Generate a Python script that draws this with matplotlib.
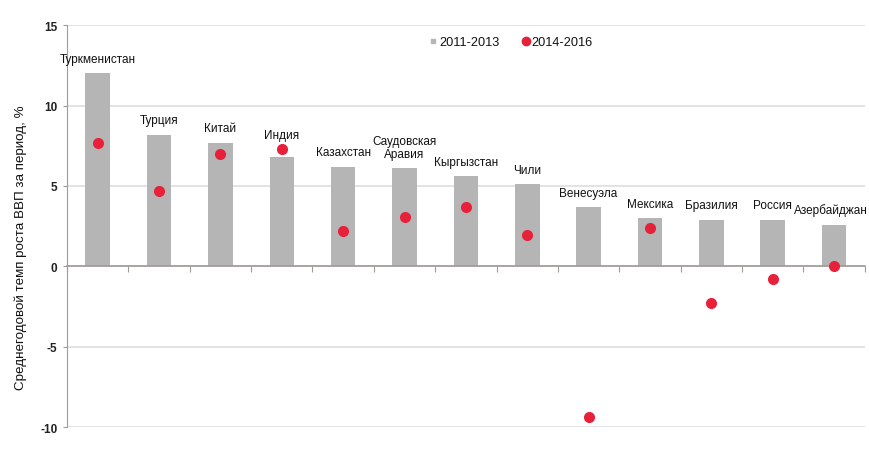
import matplotlib
matplotlib.use("Agg")
import matplotlib.pyplot as plt
from matplotlib.lines import Line2D
import numpy as np

countries = [
    "Туркменистан", "Турция", "Китай", "Индия", "Казахстан",
    "Саудовская\nАравия", "Кыргызстан", "Чили", "Венесуэла", "Мексика",
    "Бразилия", "Россия", "Азербайджан",
]
growth_2011_2013 = [12.0, 8.2, 7.7, 6.8, 6.2, 6.1, 5.6, 5.1, 3.7, 3.0, 2.9, 2.9, 2.6]
growth_2014_2016 = [7.65, 4.7, 7.0, 7.3, 2.2, 3.05, 3.7, 1.95, -9.4, 2.4, -2.3, -0.8, 0.0]
y_ticks = [-10, -5, 0, 5, 10, 15]
legend_labels = ["2011-2013", "2014-2016"]
y_label = "Среднегодовой темп роста ВВП за период, %"

bar_color = "#b5b5b5"
dot_color = "#e8213a"
grid_color = "#e0e0e0"
axis_color = "#a09a98"
text_color = "#111111"

plt.rcParams["font.family"] = ["Liberation Sans", "DejaVu Sans"]

fig = plt.figure(figsize=(8.7, 4.52), dpi=100)
ax = fig.add_axes([0.077, 0.053, 0.917, 0.889])

x = np.arange(len(countries))
ax.bar(x, growth_2011_2013, width=0.4, color=bar_color, zorder=2)
ax.scatter(x, growth_2014_2016, s=64, color=dot_color, zorder=3, linewidths=0)

# country names sit just above the bar (or the dot, if it is higher);
# the last one is pushed left so it stays inside the figure
for xi, name, b, d in zip(x, countries, growth_2011_2013, growth_2014_2016):
    top = max(b, d)
    if xi == len(countries) - 1:
        pos, ha = (xi + 0.55, top), "right"
    else:
        pos, ha = (xi, top), "center"
    ax.annotate(name, pos, xytext=(0, 6), textcoords="offset points",
                ha=ha, va="bottom", fontsize=8.5, linespacing=1.15,
                color=text_color, annotation_clip=False, zorder=4)

ax.set_xlim(-0.5, len(countries) - 0.5)
ax.set_ylim(-10, 15)
ax.set_yticks(y_ticks)
ax.set_yticklabels([str(v) for v in y_ticks], fontsize=8.5, fontweight="bold", color="#222222")
ax.yaxis.grid(True, color=grid_color, linewidth=1.3, zorder=0)
ax.set_axisbelow(True)

# zero line with category boundary ticks
ax.spines["bottom"].set_position(("data", 0))
ax.spines["bottom"].set_color(axis_color)
ax.spines["bottom"].set_linewidth(1.2)
ax.set_xticks(np.arange(len(countries) + 1) - 0.5)
ax.set_xticklabels([])
ax.tick_params(axis="x", direction="out", length=4, color=axis_color)
ax.tick_params(axis="y", length=3, color=axis_color, pad=4)
ax.spines["left"].set_color(axis_color)
ax.spines["top"].set_visible(False)
ax.spines["right"].set_visible(False)

ax.set_ylabel(y_label, fontsize=9.6, color=text_color)
ax.yaxis.set_label_coords(-0.05, 0.448)

handles = [
    Line2D([], [], marker="s", linestyle="none", markersize=3, color=bar_color),
    Line2D([], [], marker="o", linestyle="none", markersize=6, color=dot_color),
]
ax.legend(handles, legend_labels, loc="center", bbox_to_anchor=(0.557, 0.958),
          ncol=2, frameon=False, fontsize=9.2, handlelength=0.5, handletextpad=0.2,
          columnspacing=1.8, labelcolor=text_color)

fig.savefig("out.png", dpi=100)
